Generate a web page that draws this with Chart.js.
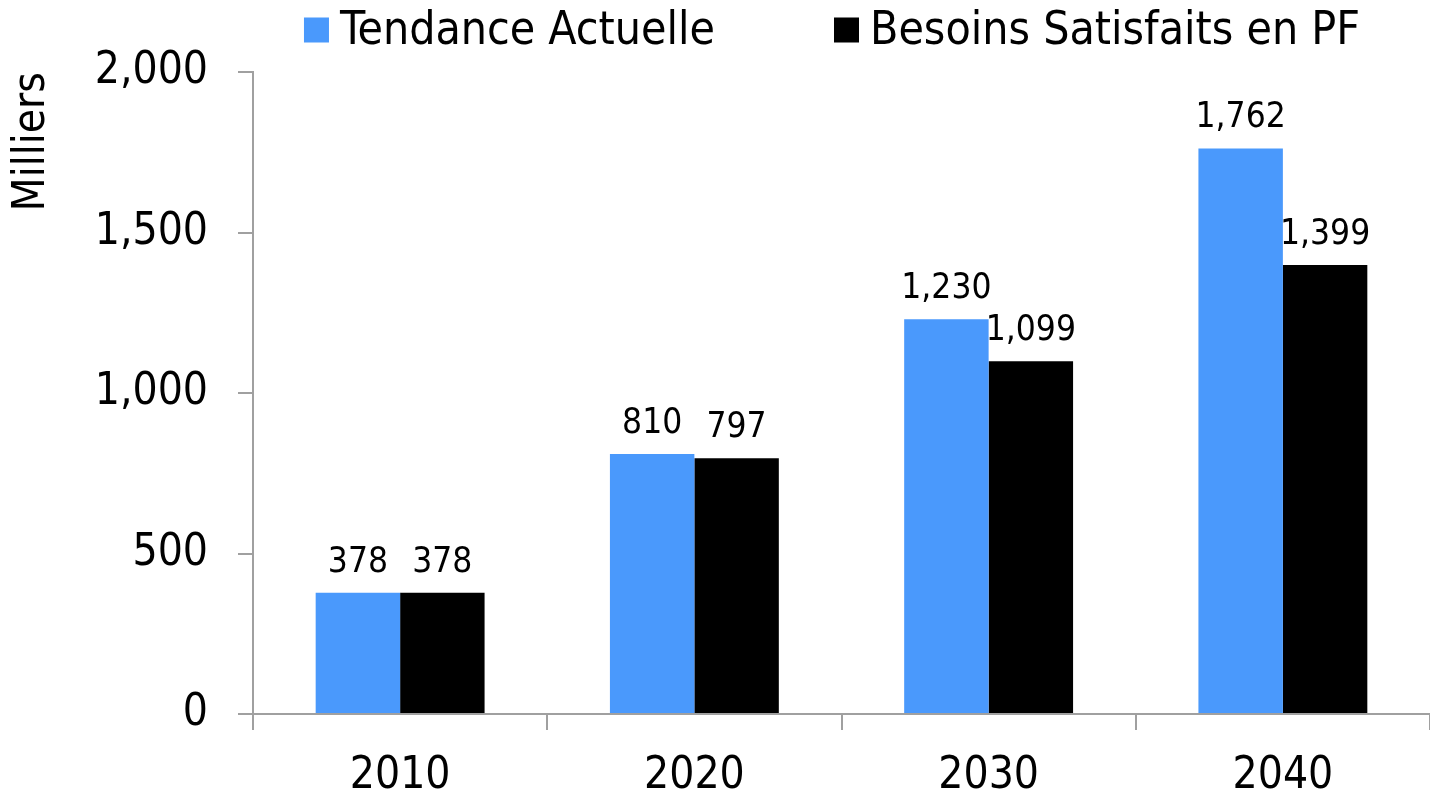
<!DOCTYPE html>
<html>
<head>
<meta charset="utf-8">
<script src="https://cdn.jsdelivr.net/npm/chart.js@4/dist/chart.umd.min.js"></script>
<style>
  html, body { margin: 0; padding: 0; background: #fff; }
  #wrap { width: 1430px; height: 796px; }
</style>
</head>
<body>
<div id="wrap"><canvas id="chart"></canvas></div>
<script>
// Donnees (en milliers)
const years = ['2010', '2020', '2030', '2040'];
const tendanceActuelle = [378, 810, 1230, 1762];
const besoinsSatisfaits = [378, 797, 1099, 1399];
const seriesNames = ['Tendance Actuelle', 'Besoins Satisfaits en PF'];
const yTicks = [0, 500, 1000, 1500, 2000];

const FONT = "'DejaVu Sans Condensed', 'DejaVu Sans', sans-serif";
const AXIS_GREY = '#a0a0a0';

// valeurs au-dessus des barres
const valueLabels = {
    id: 'valueLabels',
    afterDatasetsDraw(chart) {
        const ctx = chart.ctx;
        ctx.save();
        ctx.font = '35px ' + FONT;
        ctx.fillStyle = '#000';
        ctx.textAlign = 'center';
        ctx.textBaseline = 'alphabetic';
        chart.data.datasets.forEach((ds, i) => {
            chart.getDatasetMeta(i).data.forEach((bar, j) => {
                ctx.fillText(ds.data[j].toLocaleString('en-US'), bar.x, bar.y - 21);
            });
        });
        ctx.restore();
    }
};

// legende en haut, dessinee a la main pour coller aux espacements
const topLegend = {
    id: 'topLegend',
    afterDraw(chart) {
        const ctx = chart.ctx;
        const box = 25, gapText = 11, gapItem = 119, centerX = 832, midY = 30;
        ctx.save();
        ctx.font = '46px ' + FONT;
        ctx.textBaseline = 'middle';
        const items = chart.data.datasets.map(ds => ({
            text: ds.label, color: ds.backgroundColor, w: ctx.measureText(ds.label).width
        }));
        let total = items.reduce((s, it) => s + box + gapText + it.w, 0) + gapItem * (items.length - 1);
        let x = centerX - total / 2;
        items.forEach(it => {
            ctx.fillStyle = it.color;
            ctx.fillRect(x, midY - box / 2, box, box);
            ctx.fillStyle = '#000';
            ctx.fillText(it.text, x + box + gapText, midY + 2);
            x += box + gapText + it.w + gapItem;
        });
        ctx.restore();
    }
};

new Chart(document.getElementById('chart'), {
    type: 'bar',
    data: {
        labels: years,
        datasets: [
            { label: seriesNames[0], data: tendanceActuelle, backgroundColor: '#4a99fc' },
            { label: seriesNames[1], data: besoinsSatisfaits, backgroundColor: '#000000' }
        ]
    },
    options: {
        responsive: true,
        maintainAspectRatio: false,
        animation: false,
        devicePixelRatio: 1,
        layout: { padding: { top: 72, right: 0, bottom: 0, left: 0 } },
        datasets: { bar: { categoryPercentage: 0.574, barPercentage: 1 } },
        plugins: {
            legend: { display: false },
            tooltip: { enabled: false }
        },
        scales: {
            x: {
                grid: { drawOnChartArea: false, drawTicks: true, tickLength: 16, color: AXIS_GREY, lineWidth: 2 },
                border: { display: true, color: AXIS_GREY, width: 2 },
                ticks: { color: '#000', font: { family: FONT, size: 44 }, padding: 20 },
                afterFit(scale) { scale.height = 82; }
            },
            y: {
                min: 0,
                max: 2000,
                afterBuildTicks(scale) { scale.ticks = yTicks.map(v => ({ value: v })); },
                grid: { drawOnChartArea: false, drawTicks: true, tickLength: 15, color: AXIS_GREY, lineWidth: 2 },
                border: { display: true, color: AXIS_GREY, width: 2 },
                ticks: {
                    color: '#000',
                    font: { family: FONT, size: 44 },
                    padding: 30,
                    callback: v => v.toLocaleString('en-US')
                },
                title: {
                    display: true,
                    text: 'Milliers',
                    align: 'end',
                    color: '#000',
                    font: { family: FONT, size: 44 },
                    padding: { top: 6, bottom: 0 }
                },
                afterFit(scale) { scale.width = 253; }
            }
        }
    },
    plugins: [valueLabels, topLegend]
});
</script>
</body>
</html>
